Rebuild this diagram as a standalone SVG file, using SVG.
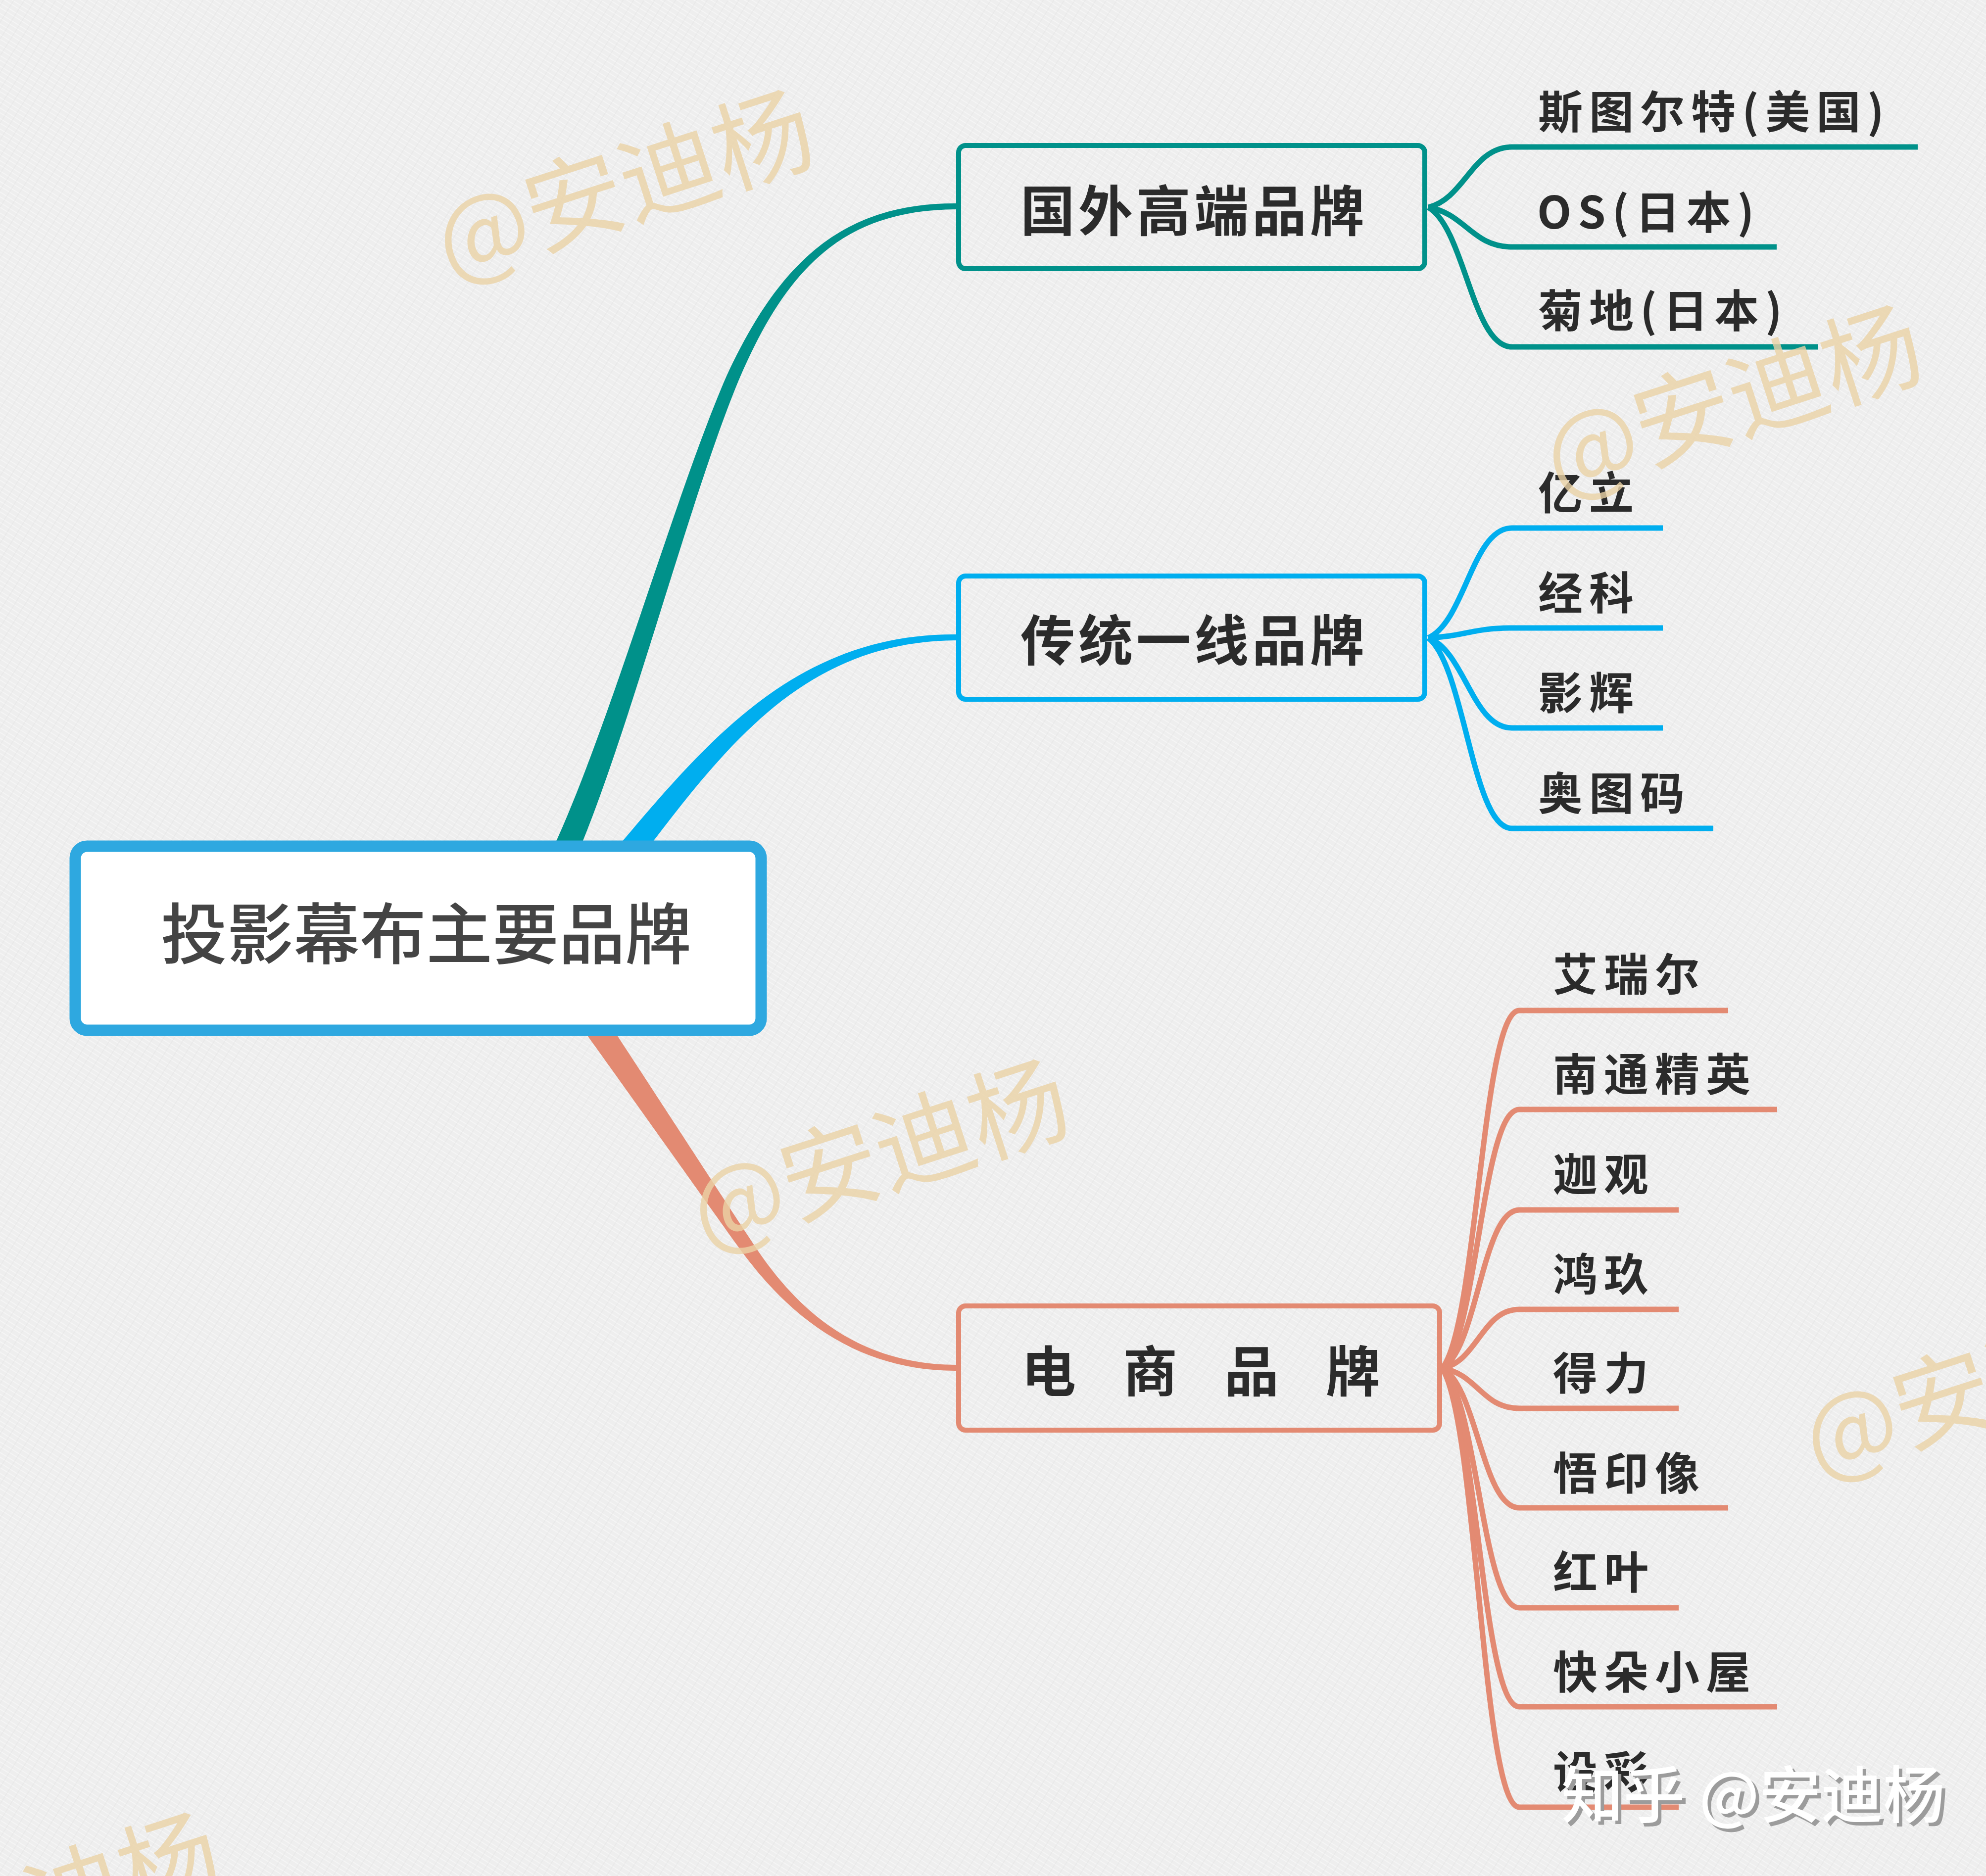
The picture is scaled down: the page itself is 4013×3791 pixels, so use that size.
<svg xmlns="http://www.w3.org/2000/svg" width="4013" height="3791" viewBox="0 0 4013 3791">
<defs>
<pattern id="linen" width="18" height="18" patternUnits="userSpaceOnUse" patternTransform="rotate(32)">
<rect width="18" height="18" fill="#eeeeee"/>
<path d="M0 5H18M0 13H18" stroke="#fafafa" stroke-opacity="0.55" stroke-width="2"/>
<path d="M6 0V18" stroke="#d9d9d9" stroke-opacity="0.3" stroke-width="1.5"/>
</pattern>
<style>
.lbl{font-family:"Noto Sans CJK SC","Noto Sans",sans-serif;font-weight:700;font-size:90px;letter-spacing:13px;fill:#2b2b2b}
.ttl{font-family:"Noto Sans CJK SC","Noto Sans",sans-serif;font-weight:700;font-size:110px;fill:#2b2b2b}
.wm{font-family:"Noto Sans CJK SC","Noto Sans",sans-serif;font-weight:400;font-size:200px;fill:#ebd3a6;opacity:0.8}
.teal{fill:none;stroke:#00918a;stroke-width:11;stroke-linecap:butt}
.blue{fill:none;stroke:#00aeef;stroke-width:11}
.ora{fill:none;stroke:#e38a72;stroke-width:11}
</style>
</defs>
<rect width="4013" height="3791" fill="url(#linen)"/>

<g id="connectors">
<path fill="#00918a" d="M 1117 1715 C 1231 1471, 1366 994, 1468 760 C 1573 533, 1700 410, 1932 411 L 1932 423 C 1700 424, 1587 547, 1492 770 C 1394 1006, 1269 1489, 1163 1735 Z"/>
<path fill="#00aeef" d="M 1256 1702 C 1436 1489, 1616 1280, 1932 1282 L 1932 1294 C 1624 1296, 1464 1511, 1294 1734 Z"/>
<path fill="#e38a72" d="M 1227 2062 C 1318 2200, 1434 2380, 1514 2501 C 1598 2633, 1720 2757, 1932 2758 L 1932 2770 C 1720 2771, 1582 2646, 1490 2517 C 1406 2400, 1282 2225, 1185 2090 Z"/>
<path class="teal" d="M 2886 419 C 2960 401, 2975 297, 3055 297 L 3875 297"/>
<path class="teal" d="M 2886 419 C 2960 431, 2975 499, 3055 499 L 3590 499"/>
<path class="teal" d="M 2886 419 C 2960 461, 2975 701, 3055 701 L 3674 701"/>
<path class="blue" d="M 2886 1289 C 2960 1256, 2975 1067, 3055 1067 L 3360 1067"/>
<path class="blue" d="M 2886 1289 C 2960 1286, 2975 1269, 3055 1269 L 3360 1269"/>
<path class="blue" d="M 2886 1289 C 2960 1316, 2975 1471, 3055 1471 L 3360 1471"/>
<path class="blue" d="M 2886 1289 C 2960 1347, 2975 1674, 3055 1674 L 3462 1674"/>
<path class="ora" d="M 2914 2765 C 2985 2680, 2995 2042, 3070 2042 L 3492 2042"/>
<path class="ora" d="M 2914 2765 C 2985 2704, 2995 2242, 3070 2242 L 3591 2242"/>
<path class="ora" d="M 2914 2765 C 2985 2728, 2995 2445, 3070 2445 L 3392 2445"/>
<path class="ora" d="M 2914 2765 C 2985 2752, 2995 2646, 3070 2646 L 3392 2646"/>
<path class="ora" d="M 2914 2765 C 2985 2776, 2995 2846, 3070 2846 L 3392 2846"/>
<path class="ora" d="M 2914 2765 C 2985 2801, 2995 3047, 3070 3047 L 3492 3047"/>
<path class="ora" d="M 2914 2765 C 2985 2825, 2995 3249, 3070 3249 L 3392 3249"/>
<path class="ora" d="M 2914 2765 C 2985 2849, 2995 3449, 3070 3449 L 3591 3449"/>
<path class="ora" d="M 2914 2765 C 2985 2873, 2995 3652, 3070 3652 L 3392 3652"/>
</g>

<g id="root">
<rect x="152" y="1710" width="1386" height="372" rx="24" fill="#ffffff" stroke="#2ea8e0" stroke-width="23"/>
<text x="861" y="1937" text-anchor="middle" font-family="'Noto Sans CJK SC','Noto Sans',sans-serif" font-weight="500" font-size="134" fill="#444444">投影幕布主要品牌</text>
</g>

<g id="node-foreign">
<rect x="1937" y="294" width="942" height="249" rx="14" fill="none" stroke="#00918a" stroke-width="10"/>
<text class="ttl" x="2413" y="467" text-anchor="middle" letter-spacing="7">国外高端品牌</text>
</g>
<g id="node-traditional">
<rect x="1937" y="1164" width="942" height="249" rx="14" fill="none" stroke="#00aeef" stroke-width="10"/>
<text class="ttl" x="2413" y="1335" text-anchor="middle" letter-spacing="7">传统一线品牌</text>
</g>
<g id="node-ecommerce">
<rect x="1937" y="2639" width="972" height="251" rx="14" fill="none" stroke="#e38a72" stroke-width="10"/>
<text class="ttl" x="2064 2174 2269 2379 2474 2584 2679" y="2812" xml:space="preserve">电 商 品 牌</text>
</g>

<g id="leaf-foreign">
<text class="lbl" x="3108" y="259">斯图尔特(美国)</text>
<text class="lbl" x="3106" y="462">OS(日本)</text>
<text class="lbl" x="3108" y="661">菊地(日本)</text>
</g>
<g id="leaf-traditional">
<text class="lbl" x="3108" y="1029">亿立</text>
<text class="lbl" x="3108" y="1231">经科</text>
<text class="lbl" x="3108" y="1433">影辉</text>
<text class="lbl" x="3108" y="1636">奥图码</text>
</g>
<g id="leaf-ecommerce">
<text class="lbl" x="3138" y="2002">艾瑞尔</text>
<text class="lbl" x="3138" y="2204">南通精英</text>
<text class="lbl" x="3138" y="2406">迦观</text>
<text class="lbl" x="3138" y="2608">鸿玖</text>
<text class="lbl" x="3138" y="2808">得力</text>
<text class="lbl" x="3138" y="3010">悟印像</text>
<text class="lbl" x="3138" y="3210">红叶</text>
<text class="lbl" x="3138" y="3412">快朵小屋</text>
<text class="lbl" x="3138" y="3614">设彩</text>
</g>

<g id="watermarks">
<text class="wm" transform="translate(1262,377) rotate(-18)" text-anchor="middle" dy="70">@安迪杨</text>
<text class="wm" transform="translate(3502,812) rotate(-18)" text-anchor="middle" dy="70">@安迪杨</text>
<text class="wm" transform="translate(1778,2336) rotate(-18)" text-anchor="middle" dy="70">@安迪杨</text>
<text class="wm" transform="translate(4026,2797) rotate(-18)" text-anchor="middle" dy="70">@安迪杨</text>
<text class="wm" transform="translate(62,3858) rotate(-18)" text-anchor="middle" dy="70">@安迪杨</text>
<text x="3162" y="3680" font-family="'Noto Sans CJK SC','Noto Sans',sans-serif" font-weight="500" font-size="125" fill="#9c9c9c">知乎 @安迪杨</text>
<text x="3155" y="3673" font-family="'Noto Sans CJK SC','Noto Sans',sans-serif" font-weight="500" font-size="125" fill="#ffffff">知乎 @安迪杨</text>
</g>
</svg>
